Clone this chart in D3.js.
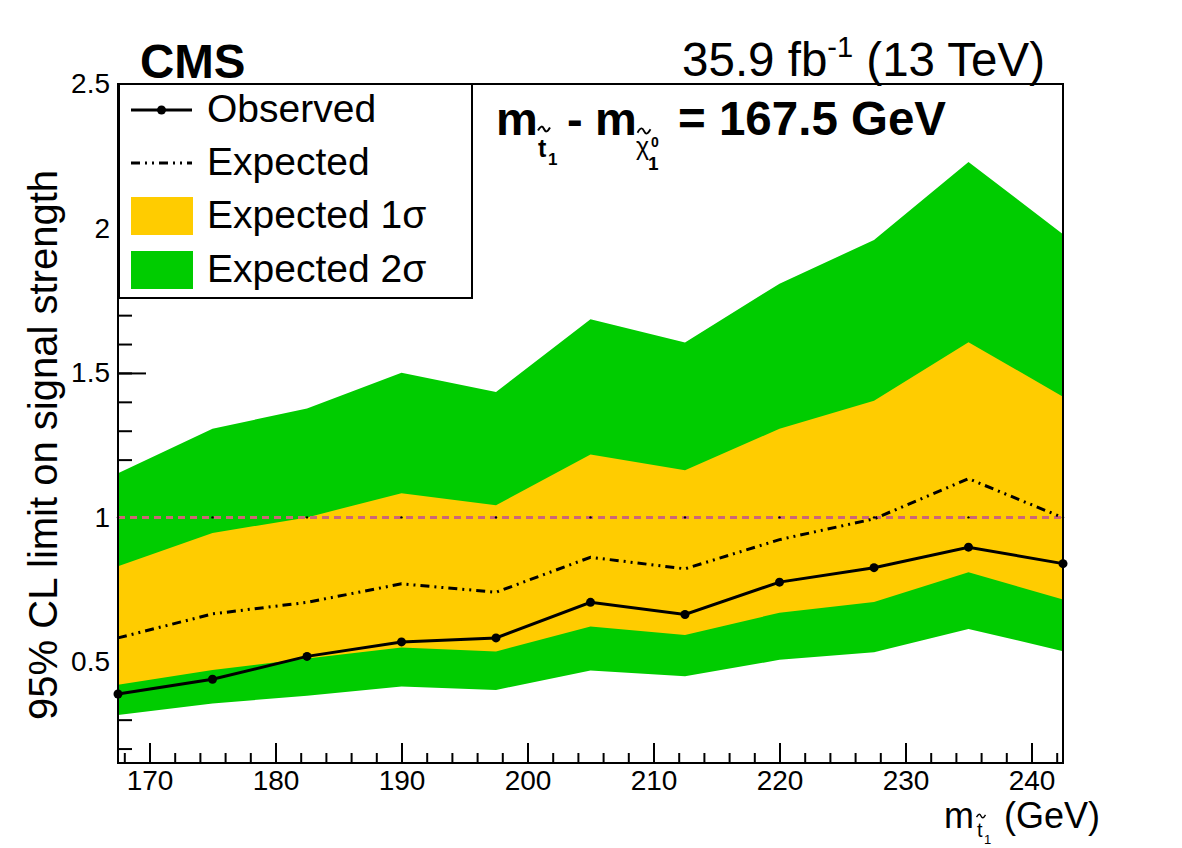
<!DOCTYPE html>
<html>
<head>
<meta charset="utf-8">
<script src="https://cdn.jsdelivr.net/npm/d3@7"></script>
<style>
  body { margin: 0; background: #fff; }
  svg text { font-family: "Liberation Sans", Arial, Helvetica, sans-serif; fill: #000; }
</style>
</head>
<body>
<svg width="1182" height="848"></svg>
<script>
// stop mass points (GeV)
const massPoints = [167.5, 175, 182.5, 190, 197.5, 205, 212.5, 220, 227.5, 235, 242.5]
const observed = [0.389, 0.440, 0.519, 0.569, 0.583, 0.706, 0.664, 0.776, 0.826, 0.897, 0.840]
const expected = [0.583, 0.666, 0.706, 0.770, 0.741, 0.862, 0.822, 0.923, 0.995, 1.134, 0.999]
const exp1Up = [0.831, 0.946, 1.000, 1.084, 1.042, 1.218, 1.163, 1.307, 1.404, 1.606, 1.418]
const exp1Down = [0.421, 0.472, 0.512, 0.550, 0.536, 0.622, 0.593, 0.670, 0.707, 0.810, 0.716]
const exp2Up = [1.153, 1.307, 1.377, 1.501, 1.434, 1.686, 1.605, 1.809, 1.960, 2.230, 1.980]
const exp2Down = [0.316, 0.356, 0.383, 0.415, 0.403, 0.470, 0.450, 0.507, 0.533, 0.614, 0.537]

const xMajor = [170, 180, 190, 200, 210, 220, 230, 240]
const xMinor = d3.range(168, 243, 2)
const yMajor = [0.5, 1, 1.5, 2, 2.5]
const yMinor = d3.range(2, 25).map((d) => d / 10)

const GREEN = "#00cc00"
const YELLOW = "#ffcc00"
const PINK = "#cc6677"

const frame = { left: 118, right: 1063, top: 84, bottom: 763 }

const x = d3.scaleLinear().domain([167.5, 242.5]).range([frame.left, frame.right])
const y = d3.scaleLinear().domain([0.15, 2.5]).range([frame.bottom, frame.top])

const svg = d3.select("svg")

// ticks go under the bands, like ROOT does
const axisStyle = (g) => {
  g.select(".domain").remove()
  g.selectAll("line").attr("stroke", "#000").attr("stroke-width", 2)
  g.selectAll("text").attr("font-size", 28).attr("font-family", "Liberation Sans, Arial, sans-serif")
}

svg.append("g")
  .attr("transform", `translate(0,${frame.bottom})`)
  .call(d3.axisBottom(x).tickValues(xMinor).tickSize(-10).tickFormat(""))
  .call(axisStyle)
svg.append("g")
  .attr("transform", `translate(0,${frame.bottom})`)
  .call(d3.axisBottom(x).tickValues(xMajor).tickSize(-20).tickPadding(7).tickFormat(d3.format("d")))
  .call(axisStyle)

svg.append("g")
  .attr("transform", `translate(${frame.left},0)`)
  .call(d3.axisLeft(y).tickValues(yMinor).tickSize(-14).tickFormat(""))
  .call(axisStyle)
svg.append("g")
  .attr("transform", `translate(${frame.left},0)`)
  .call(d3.axisLeft(y).tickValues(yMajor).tickSize(-28).tickPadding(8).tickFormat((d) => d))
  .call(axisStyle)

const rows = massPoints.map((m, i) => ({
  m, obs: observed[i], exp: expected[i],
  up1: exp1Up[i], dn1: exp1Down[i], up2: exp2Up[i], dn2: exp2Down[i]
}))

const plot = svg.append("g")

const band = (lo, hi) => d3.area().x((d) => x(d.m)).y0((d) => y(d[lo])).y1((d) => y(d[hi]))

plot.append("path").datum(rows).attr("d", band("dn2", "up2")).attr("fill", GREEN)
plot.append("path").datum(rows).attr("d", band("dn1", "up1")).attr("fill", YELLOW)

// signal strength = 1 reference
plot.append("line")
  .attr("x1", x(167.5)).attr("x2", x(242.5))
  .attr("y1", y(1)).attr("y2", y(1))
  .attr("stroke", PINK).attr("stroke-width", 3).attr("stroke-dasharray", "7,5")
plot.selectAll(".ref-dot").data(massPoints).enter().append("circle")
  .attr("cx", (d) => x(d)).attr("cy", y(1)).attr("r", 1.2).attr("fill", "#000")

plot.append("path").datum(rows)
  .attr("d", d3.line().x((d) => x(d.m)).y((d) => y(d.exp)))
  .attr("fill", "none").attr("stroke", "#000").attr("stroke-width", 3)
  .attr("stroke-dasharray", "9,5,2,5,2,5")

plot.append("path").datum(rows)
  .attr("d", d3.line().x((d) => x(d.m)).y((d) => y(d.obs)))
  .attr("fill", "none").attr("stroke", "#000").attr("stroke-width", 3)
plot.selectAll(".obs-dot").data(rows).enter().append("circle")
  .attr("cx", (d) => x(d.m)).attr("cy", (d) => y(d.obs)).attr("r", 4.5).attr("fill", "#000")

// frame on top
svg.append("rect")
  .attr("x", frame.left).attr("y", frame.top)
  .attr("width", frame.right - frame.left).attr("height", frame.bottom - frame.top)
  .attr("fill", "none").attr("stroke", "#000").attr("stroke-width", 2)

// legend
const legend = svg.append("g")
legend.append("rect")
  .attr("x", 119).attr("y", 84).attr("width", 353).attr("height", 214)
  .attr("fill", "#fff").attr("stroke", "#000").attr("stroke-width", 2)

const legendLabels = ["Observed", "Expected", "Expected 1\u03c3", "Expected 2\u03c3"]
const legendRows = [110, 163, 216, 270]
legend.selectAll(".lbl").data(legendLabels).enter().append("text")
  .attr("x", 207).attr("y", (d, i) => legendRows[i] + 12)
  .attr("font-size", 39).text((d) => d)

legend.append("line").attr("x1", 131).attr("x2", 192).attr("y1", legendRows[0]).attr("y2", legendRows[0])
  .attr("stroke", "#000").attr("stroke-width", 3)
legend.append("circle").attr("cx", 161.5).attr("cy", legendRows[0]).attr("r", 4.5)
legend.append("line").attr("x1", 131).attr("x2", 192).attr("y1", legendRows[1]).attr("y2", legendRows[1])
  .attr("stroke", "#000").attr("stroke-width", 3).attr("stroke-dasharray", "9,5,2,5,2,5")
legend.append("rect").attr("x", 131).attr("y", 197).attr("width", 62).attr("height", 38).attr("fill", YELLOW)
legend.append("rect").attr("x", 131).attr("y", 251).attr("width", 62).attr("height", 38).attr("fill", GREEN)

// header texts
svg.append("text").attr("x", 140).attr("y", 78)
  .attr("font-size", 47.5).attr("font-weight", "bold").text("CMS")

const lumi = svg.append("text").attr("x", 1045).attr("y", 76).attr("text-anchor", "end").attr("font-size", 47.5)
lumi.append("tspan").text("35.9 fb")
lumi.append("tspan").attr("font-size", 29).attr("dy", -19).text("-1")
lumi.append("tspan").attr("dy", 19).text(" (13 TeV)")

// tilde accent drawn as a small wave
const tilde = (g, cx, cy, w, sw) => {
  const h = w * 0.22
  g.append("path")
    .attr("d", `M${cx - w / 2},${cy + h * 0.6} C${cx - w / 4},${cy - h * 1.4} ${cx - w / 8},${cy - h * 1.2} ${cx},${cy}`
      + ` S${cx + w / 4},${cy + h * 1.4} ${cx + w / 2},${cy - h * 0.6}`)
    .attr("fill", "none").attr("stroke", "#000").attr("stroke-width", sw)
}

// mass splitting annotation
const ann = svg.append("g").attr("font-weight", "bold")
ann.append("text").attr("x", 496).attr("y", 135).attr("font-size", 47).text("m")
ann.append("text").attr("x", 538).attr("y", 157).attr("font-size", 25).text("t")
tilde(ann, 544, 129, 12, 2)
ann.append("text").attr("x", 548).attr("y", 165).attr("font-size", 17).text("1")
ann.append("text").attr("x", 567).attr("y", 135).attr("font-size", 47).text("-")
ann.append("text").attr("x", 595).attr("y", 135).attr("font-size", 47).text("m")
ann.append("text").attr("x", 636).attr("y", 155).attr("font-size", 25).attr("font-weight", "normal").text("\u03c7")
tilde(ann, 644, 131, 13, 1.8)
ann.append("text").attr("x", 651).attr("y", 147).attr("font-size", 14).text("0")
ann.append("text").attr("x", 648).attr("y", 170).attr("font-size", 19).text("1")
ann.append("text").attr("x", 678).attr("y", 135).attr("font-size", 47.5).text("= 167.5 GeV")

// axis titles
svg.append("text")
  .attr("transform", "translate(57,170) rotate(-90)")
  .attr("text-anchor", "end").attr("font-size", 40)
  .text("95% CL limit on signal strength")

const xt = svg.append("g")
xt.append("text").attr("x", 944).attr("y", 828).attr("font-size", 36).text("m")
xt.append("text").attr("x", 977).attr("y", 837).attr("font-size", 20).text("t")
tilde(xt, 981, 816, 9, 1.4)
xt.append("text").attr("x", 984).attr("y", 844).attr("font-size", 13).text("1")
xt.append("text").attr("x", 1004).attr("y", 828).attr("font-size", 36).text("(GeV)")
</script>
</body>
</html>
